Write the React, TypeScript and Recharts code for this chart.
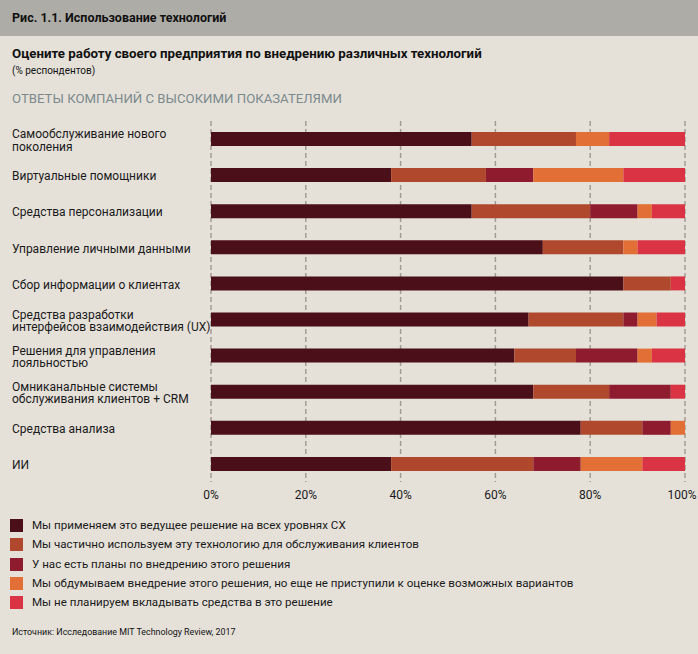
import { BarChart, Bar, XAxis, YAxis, CartesianGrid } from 'recharts';

const categories = [
  'Самообслуживание нового\nпоколения',
  'Виртуальные помощники',
  'Средства персонализации',
  'Управление личными данными',
  'Сбор информации о клиентах',
  'Средства разработки\nинтерфейсов взаимодействия (UX)',
  'Решения для управления\nлояльностью',
  'Омниканальные системы\nобслуживания клиентов + CRM',
  'Средства анализа',
  'ИИ',
];

const implemented = [55, 38, 55, 70, 87, 67, 64, 68, 78, 38];
const partly = [22, 20, 25, 17, 10, 20, 13, 16, 13, 30];
const planned = [0, 10, 10, 0, 0, 3, 13, 13, 6, 10];
const considering = [7, 19, 3, 3, 0, 4, 3, 0, 3, 13];
const notPlanned = [16, 13, 7, 10, 3, 6, 7, 3, 0, 9];

const seriesNames = [
  'Мы применяем это ведущее решение на всех уровнях CX',
  'Мы частично используем эту технологию для обслуживания клиентов',
  'У нас есть планы по внедрению этого решения',
  'Мы обдумываем внедрение этого решения, но еще не приступили к оценке возможных вариантов',
  'Мы не планируем вкладывать средства в это решение',
];
const seriesKeys = ['implemented', 'partly', 'planned', 'considering', 'notPlanned'];
const colors = ['#4b0f19', '#b0482d', '#8f1b2f', '#e26f36', '#da3343'];
const xTicks = [0, 20, 40, 60, 80, 100];

const data = categories.map((name, i) => ({
  name,
  implemented: implemented[i],
  partly: partly[i],
  planned: planned[i],
  considering: considering[i],
  notPlanned: notPlanned[i],
}));

const Txt = ({ style, children }: any) => (
  <div style={{ position: 'absolute', whiteSpace: 'nowrap', fontFamily: 'Roboto, sans-serif', ...style }}>
    {children}
  </div>
);

// left-aligned, multi-line category labels
const CategoryTick = (props: any) => {
  const { y, payload } = props;
  const lines: string[] = String(payload.value).split('\n');
  const startY = y - ((lines.length - 1) * 12.5) / 2 + 1;
  return (
    <text x={12} y={startY} fill="#1a1a1a" fontSize={12} fontFamily="Roboto, sans-serif" textAnchor="start">
      {lines.map((l, i) => (
        <tspan key={i} x={12} y={startY + i * 12.5} dy="0.35em">
          {l}
        </tspan>
      ))}
    </text>
  );
};

const PercentTick = (props: any) => {
  const { x, y, payload } = props;
  const px = payload.value === 100 ? x - 3 : x;
  return (
    <text x={px} y={y} dy="0.71em" fill="#1a1a1a" fontSize={12} fontFamily="Roboto, sans-serif" textAnchor="middle">
      {`${payload.value}%`}
    </text>
  );
};

export default function App() {
  return (
    <div
      style={{
        position: 'absolute',
        left: 0,
        top: 0,
        width: 698,
        height: 654,
        background: '#e5e1d9',
        fontFamily: 'Roboto, sans-serif',
        color: '#111',
        overflow: 'hidden',
      }}
    >
      <div style={{ position: 'absolute', left: 0, top: 0, width: 698, height: 36, background: '#adaca6' }} />
      <Txt style={{ left: 12, top: 10, fontSize: 12.5, fontWeight: 700 }}>Рис. 1.1. Использование технологий</Txt>
      <Txt style={{ left: 12, top: 46, fontSize: 13.3, fontWeight: 700 }}>
        Оцените работу своего предприятия по внедрению различных технологий
      </Txt>
      <Txt style={{ left: 12, top: 65, fontSize: 10 }}>(% респондентов)</Txt>
      <Txt style={{ left: 12, top: 91, fontSize: 13.2, color: '#7b898d' }}>
        ОТВЕТЫ КОМПАНИЙ С ВЫСОКИМИ ПОКАЗАТЕЛЯМИ
      </Txt>

      <div style={{ position: 'absolute', left: 0, top: 110 }}>
        <BarChart
          width={698}
          height={400}
          layout="vertical"
          data={data}
          margin={{ top: 11, right: 13, left: 0, bottom: 0 }}
          barSize={14}
        >
          <CartesianGrid horizontal={false} stroke="#a39c93" strokeWidth={1.5} strokeDasharray="5 3" />
          <XAxis
            type="number"
            domain={[0, 100]}
            ticks={xTicks}
            axisLine={false}
            tickLine={false}
            height={28}
            interval={0}
            tick={<PercentTick />}
          />
          <YAxis
            type="category"
            dataKey="name"
            width={211}
            axisLine={false}
            tickLine={false}
            interval={0}
            tick={<CategoryTick />}
          />
          {seriesKeys.map((k, i) => (
            <Bar key={k} dataKey={k} name={seriesNames[i]} stackId="a" fill={colors[i]} isAnimationActive={false} />
          ))}
        </BarChart>
      </div>

      {seriesNames.map((n, i) => (
        <div key={n}>
          <div
            style={{ position: 'absolute', left: 10, top: 519 + i * 19.3, width: 13, height: 13, background: colors[i] }}
          />
          <Txt style={{ left: 32, top: 518 + i * 19.3, fontSize: 11.6, color: '#1a1a1a' }}>{n}</Txt>
        </div>
      ))}

      <Txt style={{ left: 12, top: 627, fontSize: 8.9 }}>Источник: Исследование MIT Technology Review, 2017</Txt>
    </div>
  );
}
